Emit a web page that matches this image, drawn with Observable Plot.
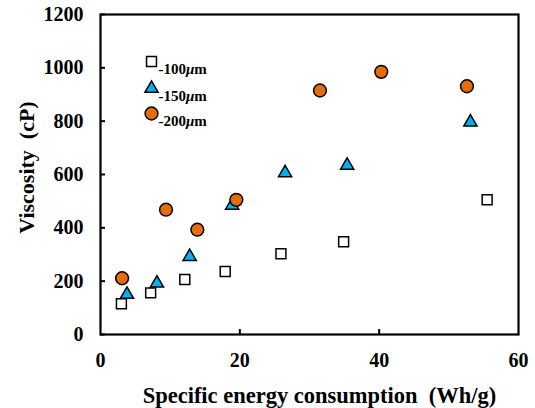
<!DOCTYPE html>
<html>
<head>
<meta charset="utf-8">
<script src="https://cdn.jsdelivr.net/npm/d3@7"></script>
<script src="https://cdn.jsdelivr.net/npm/@observablehq/plot@0.6"></script>
<style>
  html, body { margin: 0; padding: 0; background: #fff; }
</style>
</head>
<body>
<div id="chart"></div>
<script>
// Data
const energy100 = [3.0, 7.2, 12.1, 17.9, 25.9, 34.9, 55.5];
const visc100   = [115, 156, 206, 236, 303, 348, 505];

const energy150 = [3.8, 8.1, 12.8, 18.9, 26.5, 35.4, 53.1];
const visc150   = [150, 192, 292, 484, 606, 634, 796];

const energy200 = [3.1, 9.4, 13.9, 19.5, 31.5, 40.3, 52.6];
const visc200   = [211, 468, 393, 505, 915, 985, 931];

const seriesNames = ["-100", "-150", "-200"];
const xTickLabels = [0, 20, 40, 60];
const yTickLabels = [0, 200, 400, 600, 800, 1000, 1200];

const styles = {
  "-100": {symbol: "square", fill: "white", r: 5.6},
  "-150": {symbol: "triangle", fill: "#00B0F0", r: 4.9},
  "-200": {symbol: "circle", fill: "#E46C0A", r: 6.4}
};

const toRows = (xs, ys, name) => xs.map((x, i) => ({x, y: ys[i], name}));
const rows100 = toRows(energy100, visc100, "-100");
const rows150 = toRows(energy150, visc150, "-150");
const rows200 = toRows(energy200, visc200, "-200");

const font = "'Liberation Serif', 'Times New Roman', serif";

const dotMark = (rows, name) => Plot.dot(rows, {
  x: "x", y: "y",
  symbol: () => styles[name].symbol,
  r: styles[name].r,
  fill: styles[name].fill,
  stroke: "black",
  strokeWidth: 1.5
});

const legendMarks = seriesNames.flatMap((name, i) => {
  const dy = [47, 74, 99][i];
  return [
    Plot.dot([name], {
      frameAnchor: "top-left", dx: 51, dy,
      symbol: () => styles[name].symbol,
      r: styles[name].r,
      fill: styles[name].fill,
      stroke: "black",
      strokeWidth: 1.5
    }),
    Plot.text([name], {
      frameAnchor: "top-left", dx: 58, dy: dy + 12,
      text: d => d + "μm",
      textAnchor: "start",
      lineAnchor: "bottom",
      fontSize: 15,
      fontWeight: "bold",
      fontFamily: font,
      fill: "black",
      className: "legend-label"
    })
  ];
});

const chart = Plot.plot({
  width: 535,
  height: 408,
  marginLeft: 100,
  marginRight: 17,
  marginTop: 14,
  marginBottom: 74,
  style: {fontFamily: font, background: "white"},
  x: {domain: [0, 60]},
  y: {domain: [0, 1200]},
  marks: [
    Plot.axisY(yTickLabels, {
      tickSize: 5, dx: 5, tickPadding: 17, tickFormat: d3.format("d"),
      fontSize: 20, fontWeight: "bold", fontFamily: font,
      stroke: "black", strokeWidth: 2, label: null
    }),
    Plot.axisX(xTickLabels, {
      tickSize: 0, tickPadding: 18, tickFormat: d3.format("d"),
      fontSize: 20, fontWeight: "bold", fontFamily: font, label: null
    }),
    Plot.axisX(xTickLabels.slice(1, -1), {
      tickSize: 5, dy: -5, tickFormat: () => "",
      stroke: "black", strokeWidth: 2, label: null
    }),
    Plot.frame({stroke: "black", strokeWidth: 2.2}),
    dotMark(rows100, "-100"),
    dotMark(rows150, "-150"),
    dotMark(rows200, "-200"),
    ...legendMarks,
    Plot.text(["Specific energy consumption  (Wh/g)"], {
      frameAnchor: "bottom", dx: 10, dy: 68,
      text: d => d, lineAnchor: "bottom", textAnchor: "middle",
      fontSize: 22.5, fontWeight: "bold", fontFamily: font, fill: "black"
    }),
    Plot.text(["Viscosity  (cP)"], {
      frameAnchor: "middle", dx: -283, dy: -7,
      text: d => d, rotate: -90, textAnchor: "middle", lineAnchor: "middle",
      fontSize: 22, fontWeight: "bold", fontFamily: font, fill: "black",
      className: "y-title"
    })
  ]
});

d3.select(chart).selectAll(".y-title, .y-title text").attr("text-anchor", "middle");

// italic micro sign in legend labels
d3.select(chart).selectAll(".legend-label text").each(function() {
  const t = d3.select(this);
  const s = t.text();
  const m = s.match(/^(.*)(μ)(m)$/);
  if (m) {
    t.text(null);
    t.append("tspan").text(m[1]);
    t.append("tspan").attr("font-style", "italic").text(m[2]);
    t.append("tspan").text(m[3]);
  }
});

document.getElementById("chart").appendChild(chart);
</script>
</body>
</html>
